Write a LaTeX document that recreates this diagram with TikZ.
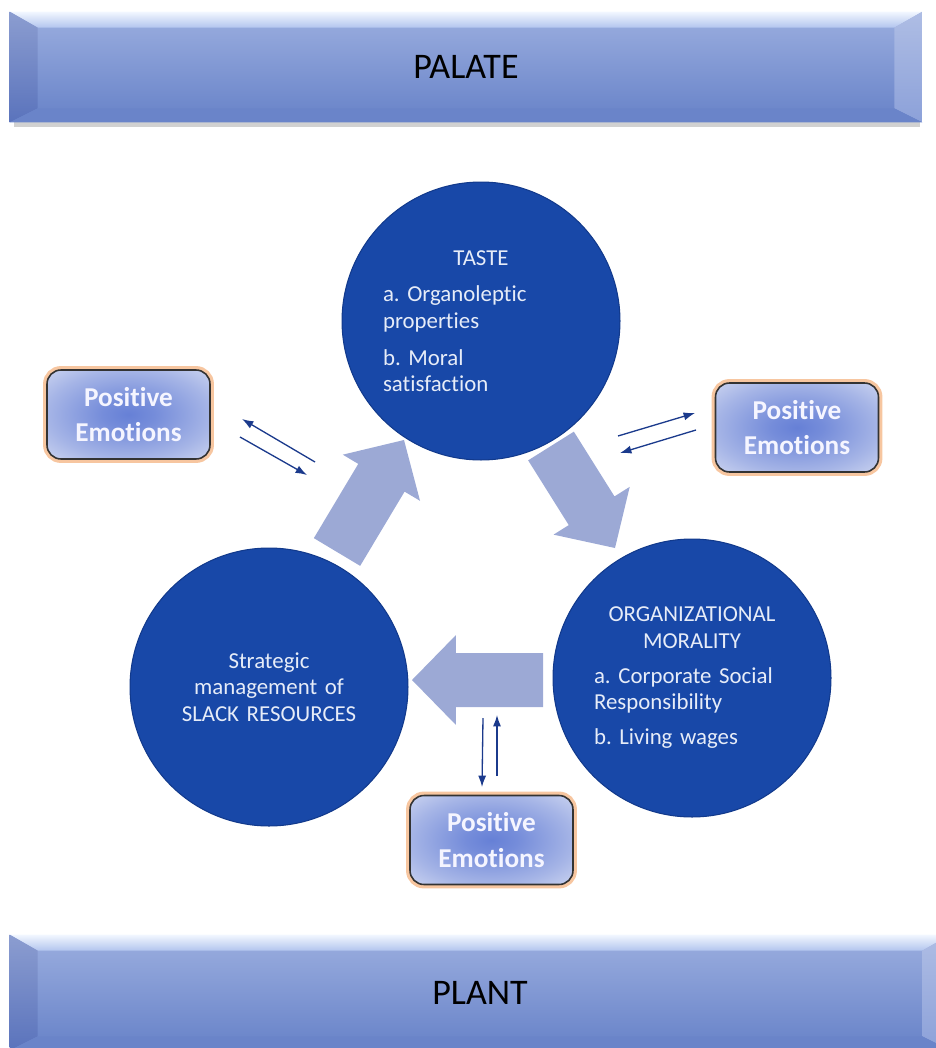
\documentclass[tikz,border=0pt]{standalone}
\usepackage{fontspec}
\setmainfont{Carlito}[Ligatures=NoCommon]
\usetikzlibrary{arrows.meta,calc}

\definecolor{circblue}{HTML}{1848A8}
\definecolor{circedge}{HTML}{123A8C}
\definecolor{disctext}{HTML}{E6ECF8}
\definecolor{fatblue}{HTML}{9CA9D5}
\definecolor{linkblue}{HTML}{1B3A8C}
\definecolor{bartop}{HTML}{9BAEDF}
\definecolor{barbot}{HTML}{6782C8}
\definecolor{bevhi}{HTML}{F2F7FF}
\definecolor{bevlo}{HTML}{B2C5EE}
\definecolor{bevleft}{HTML}{5A73BC}
\definecolor{bevright}{HTML}{8CA1D9}
\definecolor{bevbot}{HTML}{6A84C9}
\definecolor{boxin}{HTML}{6680D6}
\definecolor{boxout}{HTML}{E6EAF7}
\definecolor{boxglow}{HTML}{F7C6A0}

\pgfdeclareradialshading{posglow}{\pgfpoint{0bp}{0bp}}{color(0bp)=(boxin); color(8bp)=(boxin!88!boxout); color(25bp)=(boxin!50!boxout); color(44bp)=(boxout); color(72bp)=(boxout)}

% fat block arrow from #1 (base) to #2 (tip)
\newcommand{\fatarrow}[2]{%
	\coordinate (fa-n) at ($(#2)!0.88cm!(#1)$);
	\fill[fatblue] ($(#1)!0.54cm!90:(#2)$) -- ($(fa-n)!0.54cm!90:(#2)$) -- ($(fa-n)!0.9cm!90:(#2)$)
		-- (#2) -- ($(fa-n)!0.9cm!-90:(#2)$) -- ($(fa-n)!0.54cm!-90:(#2)$) -- ($(#1)!0.54cm!-90:(#2)$) -- cycle;}

% bevel edges round a banner node
\newcommand{\bevelbar}[1]{%
	\shade[top color=bevhi, bottom color=bevlo] (#1.north west) -- (#1.north east) -- ([shift={(-28,16)}]#1.north east) -- ([shift={(28,16)}]#1.north west) -- cycle;
	\shade[top color=bevleft!70!white, bottom color=bevleft] (#1.north west) -- ([shift={(28,16)}]#1.north west) -- ([shift={(28,-14)}]#1.south west) -- (#1.south west) -- cycle;
	\shade[top color=bevright!70!white, bottom color=bevright] (#1.north east) -- ([shift={(-28,16)}]#1.north east) -- ([shift={(-28,-14)}]#1.south east) -- (#1.south east) -- cycle;
	\fill[bevbot] (#1.south west) -- ([shift={(28,-14)}]#1.south west) -- ([shift={(-28,-14)}]#1.south east) -- (#1.south east) -- cycle;}

\begin{document}
\frenchspacing
\begin{tikzpicture}[x=0.02cm, y=-0.02cm,
		bannerbar/.style={rectangle, top color=bartop, bottom color=barbot, inner sep=0pt, font=\fontsize{20.5}{24}\selectfont},
		bigdisc/.style={circle, fill=circblue, draw=circedge, line width=0.6pt, minimum size=5.56cm, inner sep=0pt, text=disctext, font=\fontsize{13}{15}\selectfont},
		posbox/.style={rectangle, rounded corners=0.28cm, minimum width=3.26cm, minimum height=1.78cm, shading=posglow,
			draw=black!80, line width=0.9pt, preaction={draw=boxglow, line width=4.5pt}, text=white!96!blue, align=center, font=\bfseries\fontsize{15.5}{20}\selectfont},
		smallarrow/.style={linkblue, line width=0.75pt, -{Latex[length=6.5pt,width=4.6pt]}}]
	\useasboundingbox (0,0) rectangle (936,1048);
	\clip (0,0) rectangle (936,1048);
	
	% Banners
	\fill[black, opacity=.18] (14,122) rectangle (920,127);
	\node[bannerbar, minimum width=18.24cm, minimum height=2.2cm] (palate) at (466,67) {PALATE};
	\bevelbar{palate}
	\node[bannerbar, minimum width=18.8cm, minimum height=2.3cm] (plant) at (480,992.5) {PLANT};
	\bevelbar{plant}
	
	% Block arrows
	\coordinate (upbase) at (337,552);
	\coordinate (uptip) at (404,440);
	\coordinate (dnbase) at (551,446);
	\coordinate (dntip) at (615,548);
	\coordinate (ltbase) at (543,680);
	\coordinate (lttip) at (412,680);
	\fatarrow{upbase}{uptip}
	\fatarrow{dnbase}{dntip}
	\fatarrow{ltbase}{lttip}
	
	% Circles
	\node[bigdisc, text width=3.92cm, align=left] (taste) at (481,321)
		{{\centering TASTE\par}\vspace{6pt}a. Organoleptic\\ properties\\[6pt]b. Moral\\ satisfaction};
	\node[bigdisc, text width=3.92cm, align=center] (slack) at (269,687)
		{Strategic\\ management of\\ SLACK RESOURCES};
	\node[bigdisc, text width=3.92cm, align=left] (morality) at (692,678)
		{{\centering ORGANIZATIONAL\\ MORALITY\par}\vspace{5pt}a. Corporate Social\\ Responsibility\\[5pt]b. Living wages};
	
	% Positive emotions
	\node[posbox] (posleft) at (128.5,414.5) {Positive\\Emotions};
	\node[posbox] (posright) at (797,427.5) {Positive\\Emotions};
	\node[posbox] (posbottom) at (491.5,840) {Positive\\Emotions};
	
	% Two-way links
	\coordinate (la1) at (315,462);
	\coordinate (la2) at (242,419);
	\coordinate (lb1) at (240,437);
	\coordinate (lb2) at (307,475);
	\draw[smallarrow] (la1) -- (la2);
	\draw[smallarrow] (lb1) -- (lb2);
	\coordinate (ra1) at (618,436);
	\coordinate (ra2) at (695,413);
	\coordinate (rb1) at (696,430);
	\coordinate (rb2) at (620,453);
	\draw[smallarrow] (ra1) -- (ra2);
	\draw[smallarrow] (rb1) -- (rb2);
	\coordinate (ba1) at (483,718);
	\coordinate (ba2) at (482,787);
	\coordinate (bb1) at (497,776);
	\coordinate (bb2) at (497,715);
	\draw[smallarrow] (ba1) -- (ba2);
	\draw[smallarrow] (bb1) -- (bb2);
\end{tikzpicture}
\end{document}
